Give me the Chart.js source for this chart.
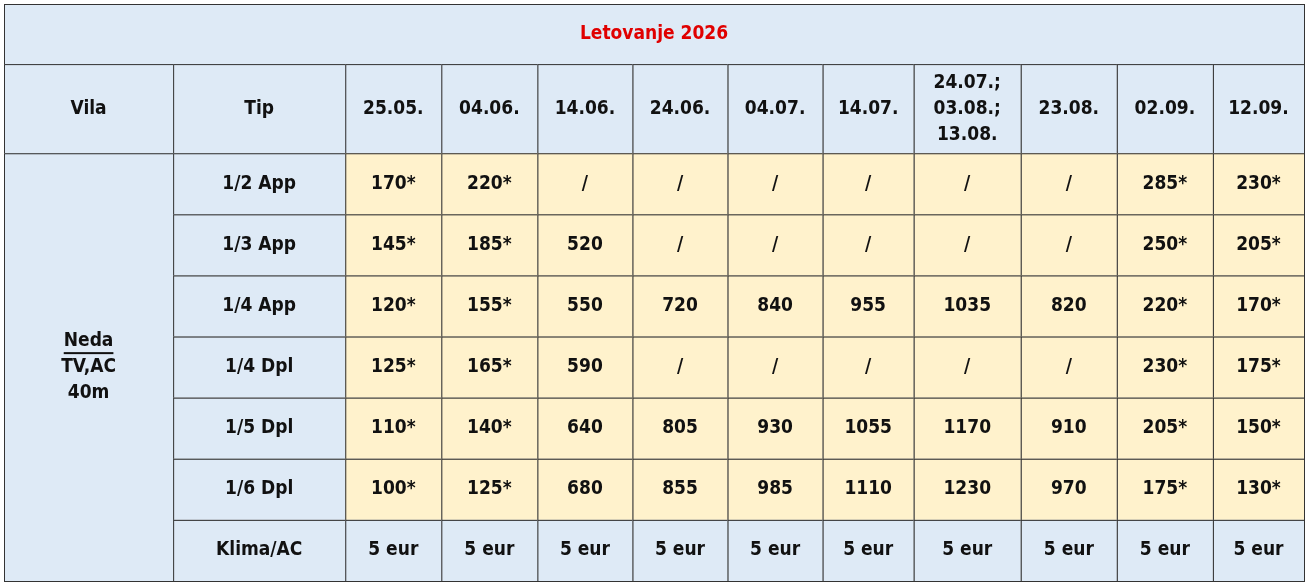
<!DOCTYPE html>
<html><head><meta charset="utf-8">
<script src="https://cdn.jsdelivr.net/npm/chart.js@4"></script>
<style>html,body{margin:0;background:#fff}#wrap{width:1307px;height:583px}</style>
</head><body><div id="wrap"><canvas id="c"></canvas></div>
<script>
const title = "Letovanje 2026";
const dates = ["25.05.", "04.06.", "14.06.", "24.06.", "04.07.", "14.07.", "24.07.;\n03.08.;\n13.08.", "23.08.", "02.09.", "12.09."];
const types = ["1/2 App", "1/3 App", "1/4 App", "1/4 Dpl", "1/5 Dpl", "1/6 Dpl"];
const prices = [
  ["170*", "220*", "/", "/", "/", "/", "/", "/", "285*", "230*"],
  ["145*", "185*", "520", "/", "/", "/", "/", "/", "250*", "205*"],
  ["120*", "155*", "550", "720", "840", "955", "1035", "820", "220*", "170*"],
  ["125*", "165*", "590", "/", "/", "/", "/", "/", "230*", "175*"],
  ["110*", "140*", "640", "805", "930", "1055", "1170", "910", "205*", "150*"],
  ["100*", "125*", "680", "855", "985", "1110", "1230", "970", "175*", "130*"]
];
const extraLabel = "Klima/AC";
const extraValues = ["5 eur", "5 eur", "5 eur", "5 eur", "5 eur", "5 eur", "5 eur", "5 eur", "5 eur", "5 eur"];
const villaLines = ["Neda", "TV,AC", "40m"];

// layout (table coordinates, not data)
const colEdges = [0, 169, 341, 437, 533, 628, 723, 818, 909, 1016, 1112, 1208, 1299];
const rowEdges = [0, 60, 149, 210, 271, 332, 393, 454, 515, 576];
const BLUE = "#deeaf6", YELLOW = "#fff2cc", LINE = "#333";
const FONT = "bold 19px 'DejaVu Sans Condensed', 'Liberation Sans Narrow', Roboto, sans-serif";

const tablePlugin = {
  id: "table",
  afterDraw(chart) {
    const {ctx, scales: {x, y}} = chart;
    const px = v => x.getPixelForValue(v), py = v => y.getPixelForValue(v);
    const cell = (c0, c1, r0, r1, fill, text, color) => {
      const X0 = px(colEdges[c0]), X1 = px(colEdges[c1]), Y0 = py(rowEdges[r0]), Y1 = py(rowEdges[r1]);
      ctx.fillStyle = fill; ctx.fillRect(X0, Y0, X1 - X0, Y1 - Y0);
      ctx.strokeStyle = LINE; ctx.lineWidth = 1; ctx.strokeRect(X0 + .5, Y0 + .5, X1 - X0, Y1 - Y0);
      if (text == null) return;
      const lines = Array.isArray(text) ? text : String(text).split("\n");
      ctx.fillStyle = color || "#111"; ctx.font = FONT; ctx.textAlign = "center"; ctx.textBaseline = "middle";
      const lh = 26, cx = (X0 + X1) / 2, cy = (Y0 + Y1) / 2 - (lines.length - 1) * lh / 2;
      lines.forEach((l, i) => ctx.fillText(l, cx, cy + i * lh));
      return {cx, cy, lh, lines};
    };
    ctx.save();
    cell(0, 12, 0, 1, BLUE, title, "#e00000");
    cell(0, 1, 1, 2, BLUE, "Vila");
    cell(1, 2, 1, 2, BLUE, "Tip");
    dates.forEach((d, i) => cell(i + 2, i + 3, 1, 2, BLUE, d));
    const v = cell(0, 1, 2, 9, BLUE, villaLines);
    const w = ctx.measureText(villaLines[0]).width;
    ctx.fillRect(v.cx - w / 2, v.cy + 11, w, 2);
    types.forEach((t, r) => {
      cell(1, 2, r + 2, r + 3, BLUE, t);
      prices[r].forEach((p, c) => cell(c + 2, c + 3, r + 2, r + 3, YELLOW, p));
    });
    cell(1, 2, 8, 9, BLUE, extraLabel);
    extraValues.forEach((p, c) => cell(c + 2, c + 3, 8, 9, BLUE, p));
    ctx.restore();
  }
};

new Chart(document.getElementById("c"), {
  type: "scatter",
  data: {datasets: [{data: []}]},
  options: {
    responsive: true, maintainAspectRatio: false, animation: false,
    layout: {padding: {left: 4, top: 4, right: 3, bottom: 2}},
    plugins: {legend: {display: false}, tooltip: {enabled: false}},
    scales: {
      x: {type: "linear", min: 0, max: 1299, display: false},
      y: {type: "linear", min: 0, max: 576, reverse: true, display: false}
    }
  },
  plugins: [tablePlugin]
});
</script></body></html>
